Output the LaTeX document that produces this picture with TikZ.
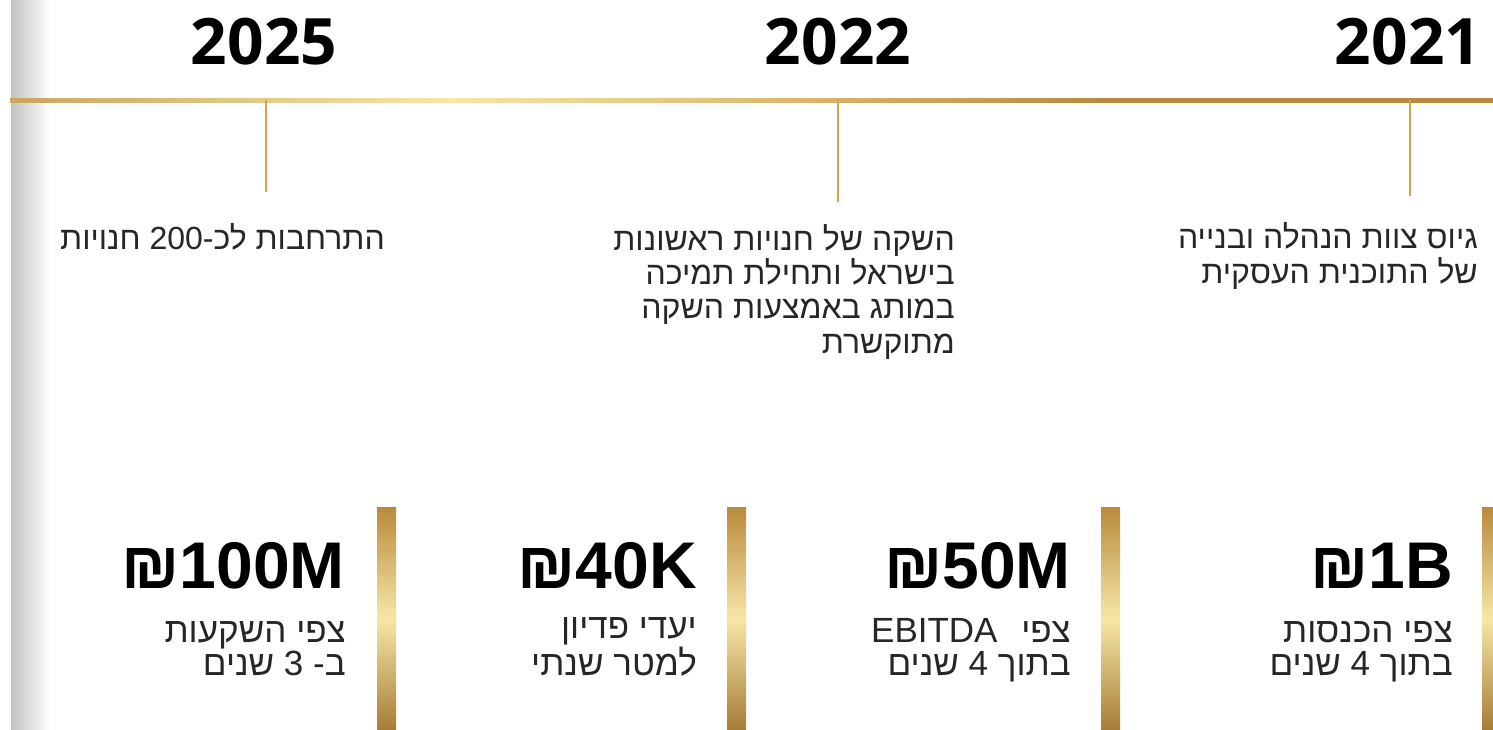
\documentclass[tikz,border=0pt]{standalone}
\usepackage{fontspec}
\setmainfont{Liberation Sans}
\newfontfamily\hebfont[Script=Hebrew]{Liberation Sans}
\newfontfamily\yearfont{Open Sans}
\newfontfamily\valfont{Liberation Sans}
\TeXXeTstate=1
\definecolor{goldA}{HTML}{C9A55E}
\definecolor{goldL}{HTML}{F7E6A6}
\definecolor{goldM}{HTML}{D9B66C}
\definecolor{goldD}{HTML}{B98A3C}
\definecolor{tickgold}{HTML}{D4A34C}
\tikzset{
	yearlabel/.style={font=\yearfont\bfseries\fontsize{64}{64}\selectfont, anchor=base, inner sep=0pt},
	milestone/.style={font=\hebfont\fontsize{32}{34.3}\selectfont, align=right, anchor=base east, inner sep=0pt, text=black!85},
	bigvalue/.style={font=\valfont\bfseries\fontsize{66}{66}\selectfont, anchor=base east, inner sep=0pt},
	valuenote/.style={font=\hebfont\fontsize{35}{33}\selectfont, align=right, anchor=base east, inner sep=0pt, text=black!85},
	tickline/.style={draw=tickgold, line width=2.5pt},
	goldbar/.style={top color=goldD, bottom color=goldD!90!black, middle color=goldL}
}
\begin{document}
\begin{tikzpicture}[x=1pt, y=-1pt]
	\useasboundingbox (0,0) rectangle (1493,730);

	% grey edge on the left
	\shade[left color=black!24, right color=white] (11,0) rectangle (50,730);

	% timeline
	\shade[left color=goldA, right color=goldL] (10,99) rectangle (450,103);
	\shade[left color=goldL, right color=goldM] (450,99) rectangle (800,103);
	\shade[left color=goldM, right color=goldD] (800,99) rectangle (1100,103);
	\shade[left color=goldD, right color=goldD] (1100,99) rectangle (1493,103);

	% years and ticks
	\node[yearlabel] (y2025) at (264,65) {2025};
	\node[yearlabel] (y2022) at (838,65) {2022};
	\node[yearlabel] (y2021) at (1408,65) {2021};
	\coordinate (tick2025) at (266,100);
	\coordinate (tick2022) at (838,100);
	\coordinate (tick2021) at (1410,100);
	\coordinate (end2025) at (266,192);
	\coordinate (end2022) at (838,202);
	\coordinate (end2021) at (1410,196);
	\draw[tickline] (tick2025) -- (end2025);
	\draw[tickline] (tick2022) -- (end2022);
	\draw[tickline] (tick2021) -- (end2021);

	% milestones (anchored on the last line)
	\node[milestone] (m2025) at (385,249) {\beginR התרחבות לכ-200 חנויות\endR};
	\node[milestone] (m2022) at (955,353) {\beginR השקה של חנויות ראשונות\endR\\\beginR בישראל ותחילת תמיכה\endR\\\beginR במותג באמצעות השקה\endR\\\beginR מתוקשרת\endR};
	\node[milestone] (m2021) at (1478,283) {\beginR גיוס צוות הנהלה ובנייה\endR\\\beginR של התוכנית העסקית\endR};

	% targets
	\foreach \xa in {377, 727, 1101, 1482}
		\shade[goldbar] (\xa,507) rectangle (\xa+19,730);
	\node[bigvalue] (v1) at (345,588) {₪100M};
	\node[bigvalue] (v2) at (697,588) {₪40K};
	\node[bigvalue] (v3) at (1071,588) {₪50M};
	\node[bigvalue] (v4) at (1453,588) {₪1B};
	\node[valuenote] (n1) at (346,675) {\beginR צפי השקעות\endR\\\beginR ב- 3 שנים\endR};
	\node[valuenote] (n2) at (697,675) {\beginR יעדי פדיון\endR\\\beginR למטר שנתי\endR};
	\node[valuenote] (n3) at (1071,675) {\beginR צפי\hspace{0.4em} \beginL EBITDA\endL\endR\\\beginR בתוך 4 שנים\endR};
	\node[valuenote] (n4) at (1453,675) {\beginR צפי הכנסות\endR\\\beginR בתוך 4 שנים\endR};
\end{tikzpicture}
\end{document}
